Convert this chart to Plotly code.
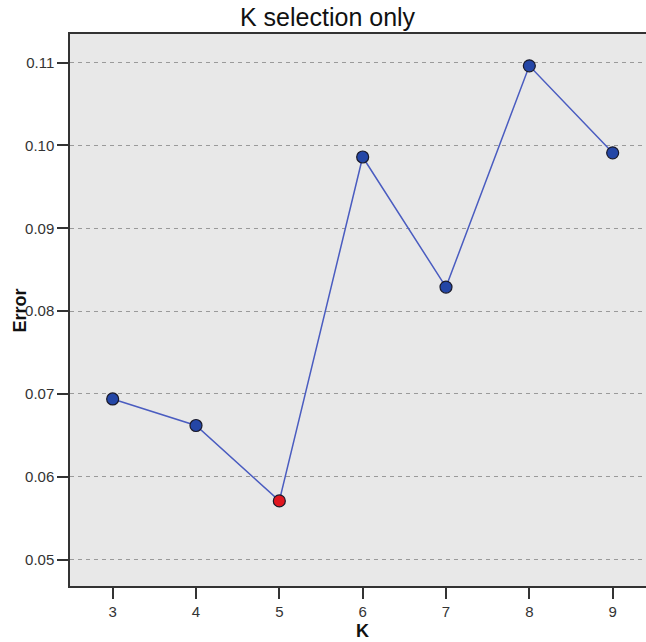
import plotly.graph_objects as go

k_values = [3, 4, 5, 6, 7, 8, 9]
errors = [0.0694, 0.0662, 0.0571, 0.0986, 0.0829, 0.1096, 0.0991]
best_k = 5
y_ticks = [0.05, 0.06, 0.07, 0.08, 0.09, 0.10, 0.11]
x_ticks = [3, 4, 5, 6, 7, 8, 9]

marker_colors = ["#e0161f" if k == best_k else "#2446a6" for k in k_values]

W, H = 646, 642
L, R, T, B = 70, 0, 34, 56
plot_h = H - T - B
plot_w = W - L - R

fig = go.Figure()
fig.add_trace(go.Scatter(
    x=k_values, y=errors, mode="lines+markers",
    line=dict(color="#4a5cc0", width=1.5),
    marker=dict(size=12, color=marker_colors, line=dict(color="#1a1a2a", width=1.2)),
    showlegend=False, hoverinfo="skip",
))

font = "Liberation Sans, Arial, sans-serif"
fig.update_layout(
    width=W, height=H,
    margin=dict(l=L, r=R, t=T, b=B, pad=0),
    paper_bgcolor="white", plot_bgcolor="#e8e8e8",
    font=dict(family=font, size=15, color="#333333"),
    xaxis=dict(
        range=[2.488, 9.4], tickvals=x_ticks, ticktext=[str(v) for v in x_ticks],
        showgrid=False, zeroline=False, showline=True, linecolor="#333333", linewidth=1.5,
        mirror=True, ticks="outside", ticklen=11, tickwidth=1.5, tickcolor="#333333",
        tickfont=dict(size=15, color="#333333"),
    ),
    yaxis=dict(
        range=[0.04683, 0.11344], tickvals=y_ticks, ticktext=[f"{v:.2f}" for v in y_ticks],
        showgrid=True, gridcolor="#9a9a9a", griddash="4px,4px", gridwidth=1.2,
        zeroline=False, showline=True, linecolor="#333333", linewidth=1.5,
        ticks="outside", ticklen=11, tickwidth=1.5, tickcolor="#333333",
        tickfont=dict(size=15, color="#333333"),
    ),
    annotations=[
        dict(text="K selection only", x=(327.5 - L) / plot_w, xref="paper", xanchor="center",
             y=1 + (T - 17) / plot_h, yref="paper", yanchor="middle", showarrow=False,
             font=dict(size=25, color="#111111", family=font)),
        dict(text="<b>K</b>", x=6, xref="x", y=0, yref="paper", yanchor="middle", yshift=-45,
             showarrow=False, font=dict(size=18, color="#111111", family=font)),
        dict(text="<b>Error</b>", x=0, xref="paper", xanchor="center", xshift=-49.5,
             y=0.08, yref="y", yanchor="middle",
             textangle=-90, showarrow=False, font=dict(size=18, color="#111111", family=font)),
    ],
)

fig.write_html(
    "out.html",
    config={"displayModeBar": False},
    post_script="document.body.style.margin='0';document.body.style.overflow='hidden';",
)
